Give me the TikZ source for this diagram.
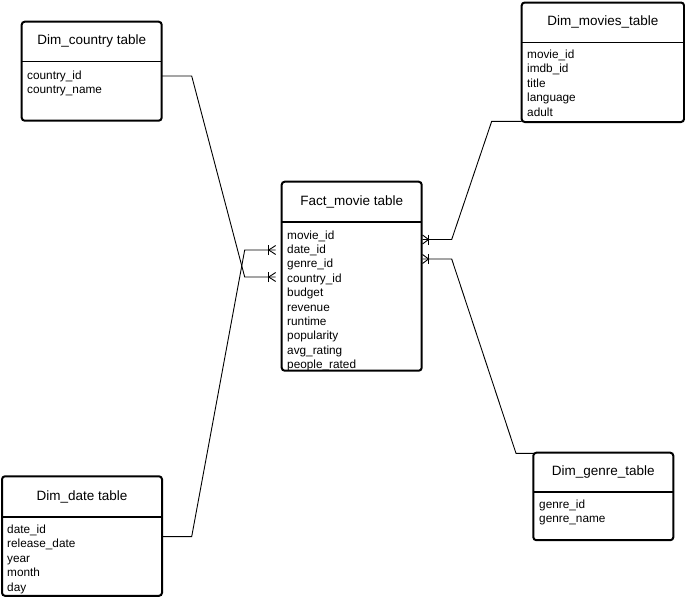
\documentclass[tikz,border=0pt]{standalone}
\usepackage{fontspec}
\setmainfont{Liberation Sans}
\usetikzlibrary{calc}

\begin{document}
\begin{tikzpicture}[x=1pt,y=-1pt,
  table/.style={draw=black,line width=2pt,rounded corners=3pt,inner sep=0pt,
    outer sep=0pt,anchor=north west},
  sep/.style={line width=1.6pt},
  title/.style={font=\fontsize{13.5}{16}\selectfont,inner sep=0pt},
  field/.style={font=\fontsize{11.8}{14}\selectfont,inner sep=0pt,anchor=base west},
  link/.style={line width=0.9pt},
  % crow's foot "one or many": origin = prong tips, local x points away from the entity
  pics/crowfoot/.style={code={
    \draw[link] (0,-4.5) -- (#1,0) -- (0,4.5);
    \draw[link] (#1,-5) -- (#1,5);
  }}]

\useasboundingbox (0,0) rectangle (685,597);
\fill[white] (0,0) rectangle (685,597);

% ---- tables ----
\node[table,minimum width=140pt,minimum height=99pt] (country) at (21.7,21.7) {};
\node[table,minimum width=140pt,minimum height=189pt] (fact) at (281.7,181.7) {};
\node[table,minimum width=162.3pt,minimum height=119.5pt] (movies) at (521.7,2.5) {};
\node[table,minimum width=160pt,minimum height=119.5pt] (date) at (2,476.3) {};
\node[table,minimum width=140pt,minimum height=87.5pt] (genre) at (533.3,452.7) {};

% header separators
\draw[sep] ([yshift=-39.6]country.north west) -- ([yshift=-39.6]country.north east);
\draw[sep] ([yshift=-40]fact.north west) -- ([yshift=-40]fact.north east);
\draw[sep] ([yshift=-39.8]movies.north west) -- ([yshift=-39.8]movies.north east);
\draw[sep] ([yshift=-40.4]date.north west) -- ([yshift=-40.4]date.north east);
\draw[sep] ([yshift=-39]genre.north west) -- ([yshift=-39]genre.north east);

% titles
\node[title] (country-title) at ($(country.north)+(0,19.8)$) {Dim\_country table};
\node[title] (fact-title) at ($(fact.north)+(0,20)$) {Fact\_movie table};
\node[title] (movies-title) at ($(movies.north)+(0,19.8)$) {Dim\_movies\_table};
\node[title] (date-title) at ($(date.north)+(0,20.4)$) {Dim\_date table};
\node[title] (genre-title) at ($(genre.north)+(0,19.5)$) {Dim\_genre\_table};

% fields
\foreach \t [count=\i from 0] in {country\_id,country\_name}
  \node[field] (country-f\i) at (27,79+14.4*\i) {\t};
\foreach \t [count=\i from 0] in {movie\_id,date\_id,genre\_id,country\_id,budget,
    revenue,runtime,popularity,avg\_rating,people\_rated}
  \node[field] (fact-f\i) at (287,239+14.4*\i) {\t};
\foreach \t [count=\i from 0] in {movie\_id,imdb\_id,title,language,adult}
  \node[field] (movies-f\i) at (527,58.5+14.4*\i) {\t};
\foreach \t [count=\i from 0] in {date\_id,release\_date,year,month,day}
  \node[field] (date-f\i) at (7,533.5+14.4*\i) {\t};
\foreach \t [count=\i from 0] in {genre\_id,genre\_name}
  \node[field] (genre-f\i) at (539,508+14.4*\i) {\t};

% ---- relationships ----
% country -> fact
\coordinate (fc) at ([xshift=-6,yshift=-95.3]fact.north west);
\draw[link] ([yshift=-54.3]country.north east) -- ++(30,0)
  -- ($(fc)+(-31,0)$) -- (fc);
\pic[rotate=180] at (fc) {crowfoot=7};

% date -> fact
\coordinate (fd) at ([xshift=-6,yshift=-68.3]fact.north west);
\draw[link] ([yshift=-60.3]date.north east) -- ++(29.7,0)
  -- ($(fd)+(-31,0)$) -- (fd);
\pic[rotate=180] at (fd) {crowfoot=7};

% movies -> fact
\coordinate (fm) at ([xshift=0.8,yshift=-57.8]fact.north east);
\draw[link] ([yshift=-118.8]movies.north west) -- ++(-30,0)
  -- ($(fm)+(29.2,0)$) -- (fm);
\pic at (fm) {crowfoot=6};

% genre -> fact
\coordinate (fg) at ([xshift=0.8,yshift=-77.3]fact.north east);
\draw[link] ([yshift=-0.6]genre.north west) -- ++(-17.3,0)
  -- ($(fg)+(29.2,0)$) -- (fg);
\pic at (fg) {crowfoot=6};

\end{tikzpicture}
\end{document}
